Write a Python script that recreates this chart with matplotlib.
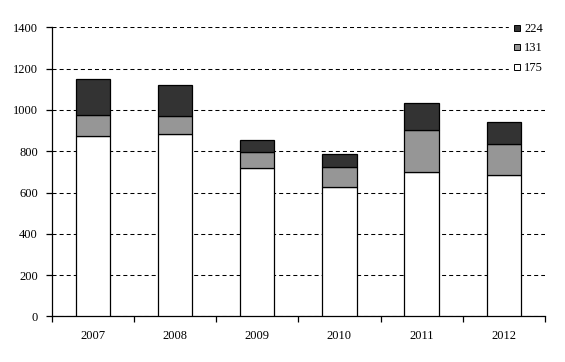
import matplotlib.pyplot as plt
from matplotlib.lines import Line2D

plt.rcParams['font.family'] = ['Liberation Serif', 'DejaVu Serif']
plt.rcParams['lines.scale_dashes'] = False

years = ['2007', '2008', '2009', '2010', '2011', '2012']
base_175 = [875, 885, 720, 628, 701, 685]
mid_131 = [102, 87, 78, 97, 202, 150]
top_224 = [175, 150, 58, 63, 131, 107]
series_labels = ['175', '131', '224']

fig = plt.figure(figsize=(5.65, 3.62), dpi=100)
ax = fig.add_axes([0.0915, 0.1257, 0.873, 0.7989])

x = list(range(len(years)))
w = 0.42
bottoms2 = [a + b for a, b in zip(base_175, mid_131)]

ax.bar(x, base_175, width=w, color='white', edgecolor='black', linewidth=0.9, zorder=3)
ax.bar(x, mid_131, width=w, bottom=base_175, color='#969696', edgecolor='black', linewidth=0.9, zorder=3)
ax.bar(x, top_224, width=w, bottom=bottoms2, color='#333333', edgecolor='black', linewidth=0.9, zorder=3)

ax.set_ylim(0, 1400)
ax.set_xlim(-0.5, len(years) - 0.5)
ax.set_yticks(range(0, 1401, 200))
ax.yaxis.grid(True, color='black', linestyle=(0, (2.9, 2.2)), linewidth=0.75, zorder=0)
ax.set_axisbelow(True)

# category boundaries as major ticks, labels on minor ticks
ax.set_xticks([i - 0.5 for i in range(len(years) + 1)])
ax.set_xticklabels([])
ax.set_xticks(x, minor=True)
ax.set_xticklabels(years, minor=True)
ax.tick_params(axis='x', which='major', direction='out', length=4, width=0.9)
ax.tick_params(axis='x', which='minor', length=0, pad=10, labelsize=9)
ax.tick_params(axis='y', direction='out', length=4, width=0.9, pad=6, labelsize=9)

for s in ['top', 'right']:
    ax.spines[s].set_visible(False)
for s in ['left', 'bottom']:
    ax.spines[s].set_linewidth(0.9)

handles = [
    Line2D([], [], linestyle='none', marker='s', markersize=5, markerfacecolor='#333333', markeredgecolor='black', markeredgewidth=0.7),
    Line2D([], [], linestyle='none', marker='s', markersize=5, markerfacecolor='#969696', markeredgecolor='black', markeredgewidth=0.7),
    Line2D([], [], linestyle='none', marker='s', markersize=5, markerfacecolor='white', markeredgecolor='black', markeredgewidth=0.7),
]
leg = fig.legend(handles, ['224', '131', '175'], loc='upper right', bbox_to_anchor=(0.968, 0.947),
                 frameon=True, fontsize=9, handlelength=0.7, handletextpad=0.2,
                 labelspacing=0.6, borderpad=0.3, borderaxespad=0)
leg.get_frame().set_facecolor('white')
leg.get_frame().set_edgecolor('white')
leg.get_frame().set_alpha(1)

fig.savefig('out.png', dpi=100)
